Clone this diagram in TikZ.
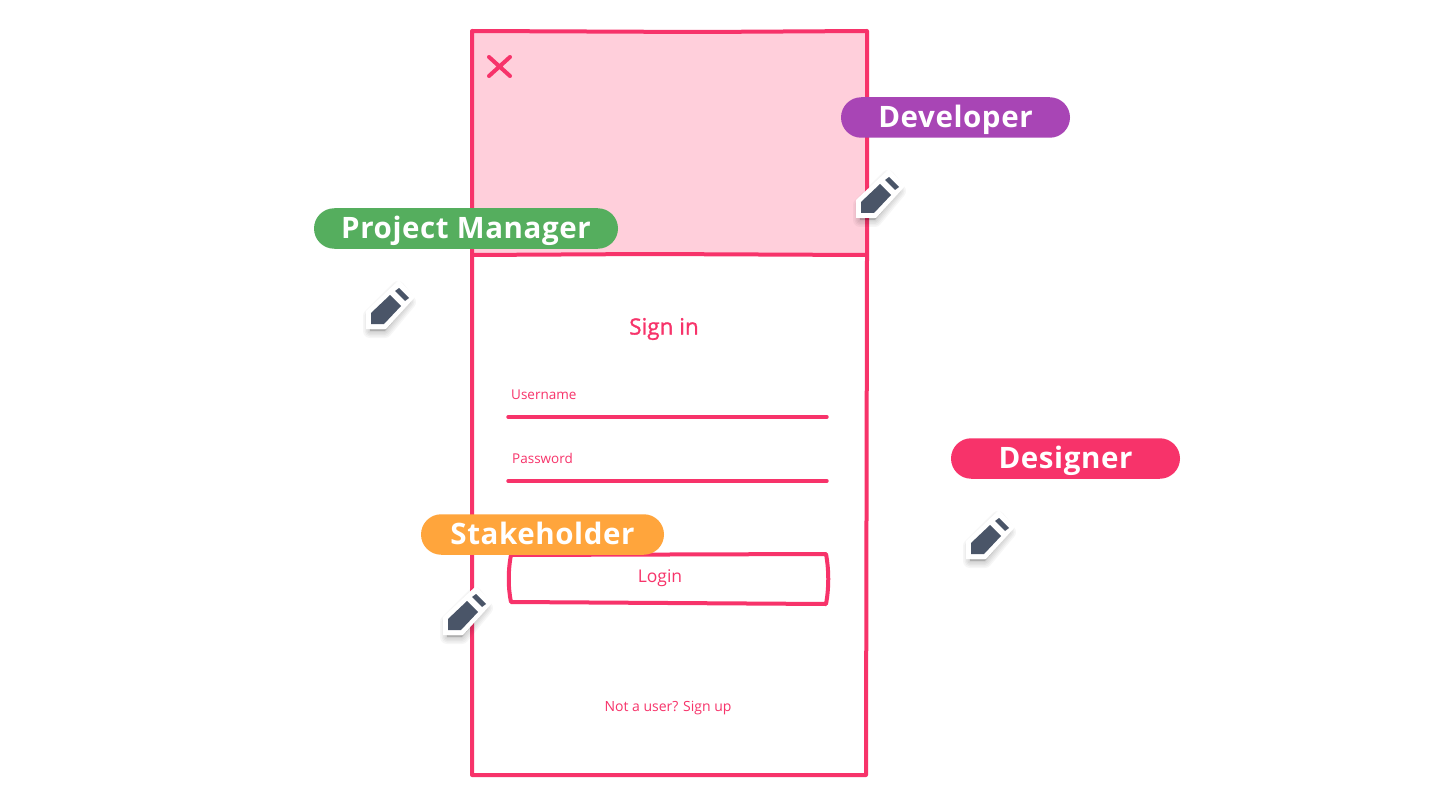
\documentclass[tikz,border=0pt]{standalone}
\usepackage{fontspec}
\setmainfont{Open Sans}
\newfontfamily\pillfont[LetterSpace=2]{Open Sans Bold}
\newfontfamily\headfont[FakeBold=1.2]{Open Sans}
\usetikzlibrary{shapes.misc}
\definecolor{sketchred}{HTML}{F7336A}
\definecolor{sketchpink}{HTML}{FFCFDB}
\definecolor{pmgreen}{HTML}{55AE5E}
\definecolor{devpurple}{HTML}{A845B5}
\definecolor{holderorange}{HTML}{FFA53C}
\definecolor{pencilgrey}{HTML}{4A5568}
\tikzset{
  sketch/.style={draw=sketchred,line width=4pt,line join=round},
  field/.style={draw=sketchred,line width=3.4pt,line cap=round},
  formtext/.style={text=sketchred,inner sep=0pt},
  rolepill/.style={rounded rectangle,text=white,inner sep=0pt,minimum height=40.5pt,
    text height=20.5pt,text depth=0pt,font=\pillfont\fontsize{29.5}{30}\selectfont},
  pencil/.pic={
    % tip of the pencil is the origin of the pic
    \foreach \w in {14,11,8,5,2}
      \draw[black,opacity=.035,line width=\w pt,line join=round,fill=black]
        (-1,7) -- (-1,-8) -- (27,-36) -- (38,-22) -- (14,7) -- cycle;
    \fill[white] (-5,5) -- (-5,-13) -- (28,-44) -- (44,-27) -- (15,5) -- cycle;
    \fill[pencilgrey] (0,0) -- (0,-11) -- (19,-29) -- (30,-18) -- (13,0) -- cycle;
    \fill[pencilgrey] (24,-33) -- (28,-36) -- (38,-26) -- (34,-23) -- cycle;
  }
}
\begin{document}
\begin{tikzpicture}[x=1pt,y=-1pt]
  \fill[white,use as bounding box] (0,0) rectangle (1432,805);

  % header
  \fill[sketchpink] (472,31) rectangle (867,255);
  \draw[sketch] (472,31) -- (700,32) -- (867,31) -- (867,255) -- (866,775) -- (472,775) -- (472,255) -- cycle;
  \draw[sketch] (472,255) -- (650,254) -- (867,255);
  \draw[draw=sketchred,line width=4pt,line cap=round] (489,57) -- (510,76) (510,57) -- (489,76);

  % form
  \node[formtext,font=\headfont\fontsize{22.5}{23}\selectfont] (signin) at (664,329) {Sign in};
  \node[formtext,font=\fontsize{13.5}{14}\selectfont,anchor=west] (username) at (511,395) {Username};
  \node[formtext,font=\fontsize{13.5}{14}\selectfont,anchor=west] (password) at (512,458) {Password};
  \draw[field] (508,417) -- (827,417);
  \draw[field] (508,481) -- (827,481);
  \draw[sketch] (511,555) -- (826,554) .. controls (829,570) and (829,588) .. (826,604)
    -- (511,602) .. controls (508,588) and (508,570) .. (511,555) -- cycle;
  \node[formtext,font=\fontsize{17.5}{18}\selectfont] (login) at (660,578) {Login};
  \node[formtext,font=\fontsize{14}{14}\selectfont] (signup) at (668,708) {Not a user? Sign up};

  % roles
  \node[rolepill,fill=devpurple,minimum width=229pt] (developer) at (955.5,117.5) {Developer};
  \node[rolepill,fill=pmgreen,minimum width=304pt] (manager) at (466,228.5) {Project Manager};
  \node[rolepill,fill=sketchred,minimum width=229pt] (designer) at (1065.5,458.5) {Designer};
  \node[rolepill,fill=holderorange,minimum width=243pt] (holder) at (542.5,534.5) {Stakeholder};

  \pic at (861,213) {pencil};
  \pic at (371,324) {pencil};
  \pic at (971,554) {pencil};
  \pic at (448,630) {pencil};
\end{tikzpicture}
\end{document}
